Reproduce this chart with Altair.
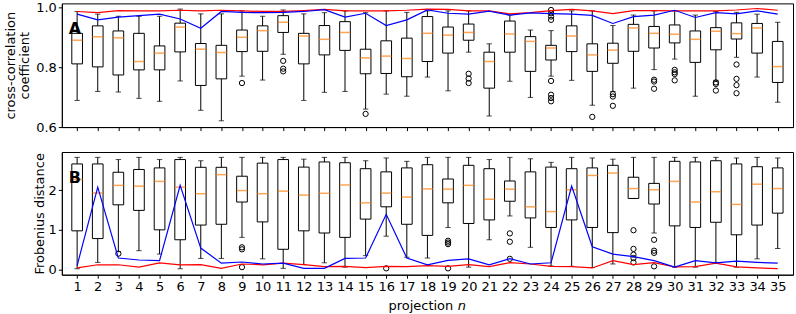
import altair as alt
import pandas as pd

proj = list(range(1, 36))

# ---- panel A: cross-correlation coefficient (box statistics) ----
cc_hi = [0.986, 0.977, 0.970, 0.970, 0.970, 0.994, 0.978, 0.978, 0.988, 0.970,
         0.991, 0.978, 0.982, 0.988, 0.982, 0.988, 0.983, 0.988, 0.988, 0.988,
         0.878, 0.974, 0.924, 0.922, 0.988, 0.988, 0.939, 0.974, 0.988, 0.988,
         0.974, 0.986, 0.983, 0.977, 0.950]
cc_q3 = [0.913, 0.938, 0.921, 0.913, 0.871, 0.947, 0.879, 0.873, 0.924, 0.938,
         0.972, 0.913, 0.939, 0.952, 0.860, 0.888, 0.897, 0.969, 0.934, 0.944,
         0.850, 0.954, 0.902, 0.873, 0.938, 0.878, 0.880, 0.943, 0.936, 0.941,
         0.921, 0.932, 0.948, 0.946, 0.886]
cc_med = [0.890, 0.902, 0.898, 0.819, 0.847, 0.934, 0.860, 0.849, 0.900, 0.922,
          0.950, 0.904, 0.893, 0.916, 0.831, 0.837, 0.829, 0.913, 0.907, 0.916,
          0.819, 0.911, 0.886, 0.864, 0.904, 0.841, 0.857, 0.931, 0.913, 0.910,
          0.893, 0.920, 0.912, 0.931, 0.802]
cc_q1 = [0.811, 0.801, 0.774, 0.791, 0.791, 0.851, 0.739, 0.761, 0.852, 0.853,
         0.916, 0.811, 0.841, 0.856, 0.778, 0.779, 0.768, 0.819, 0.847, 0.890,
         0.730, 0.850, 0.786, 0.824, 0.852, 0.786, 0.813, 0.853, 0.864, 0.881,
         0.816, 0.858, 0.894, 0.847, 0.749]
cc_lo = [0.689, 0.719, 0.717, 0.696, 0.686, 0.754, 0.656, 0.621, 0.770, 0.757,
         0.843, 0.689, 0.716, 0.719, 0.660, 0.710, 0.703, 0.767, 0.721, 0.850,
         0.637, 0.753, 0.699, 0.770, 0.756, 0.673, 0.719, 0.730, 0.792, 0.827,
         0.703, 0.756, 0.833, 0.767, 0.683]
cc_red = [0.986, 0.982, 0.989, 0.988, 0.988, 0.990, 0.988, 0.990, 0.988, 0.986,
          0.986, 0.989, 0.993, 0.988, 0.988, 0.988, 0.990, 0.994, 0.993, 0.988,
          0.988, 0.978, 0.982, 0.989, 0.993, 0.988, 0.979, 0.989, 0.989, 0.988,
          0.988, 0.988, 0.991, 0.996, 0.990]
cc_blue = [0.977, 0.958, 0.967, 0.972, 0.977, 0.961, 0.930, 0.986, 0.983, 0.982,
           0.983, 0.986, 0.992, 0.967, 0.980, 0.939, 0.958, 0.991, 0.980, 0.977,
           0.987, 0.974, 0.981, 0.979, 0.977, 0.973, 0.946, 0.969, 0.974, 0.990,
           0.966, 0.982, 0.978, 0.988, 0.977]
cc_out_proj = [9, 11, 11, 11, 15, 20, 20, 20, 24, 24, 24, 24, 24, 24, 24, 24,
               26, 27, 27, 27, 29, 29, 29, 30, 30, 30, 30, 32, 32, 32, 33, 33, 33, 33]
cc_out_val = [0.747, 0.821, 0.795, 0.786, 0.644, 0.778, 0.762, 0.747,
              0.991, 0.980, 0.969, 0.958, 0.754, 0.708, 0.697, 0.686,
              0.634, 0.710, 0.702, 0.671, 0.758, 0.752, 0.728,
              0.791, 0.783, 0.777, 0.756, 0.749, 0.744, 0.722,
              0.809, 0.761, 0.740, 0.713]

# ---- panel B: Frobenius distance ----
fd_hi = [2.825, 2.825, 2.77, 2.825, 2.77, 2.825, 2.74, 2.825, 2.825, 2.825,
         2.825, 2.78, 2.825, 2.825, 2.74, 2.81, 2.725, 2.825, 2.825, 2.825,
         2.77, 2.825, 2.79, 2.70, 2.825, 2.81, 2.78, 2.825, 2.825, 2.825,
         2.825, 2.825, 2.81, 2.825, 2.81]
fd_q3 = [2.66, 2.66, 2.45, 2.52, 2.56, 2.77, 2.575, 2.575, 2.35, 2.68,
         2.77, 2.58, 2.71, 2.69, 2.54, 2.46, 2.56, 2.64, 2.28, 2.625,
         2.54, 2.23, 2.46, 2.58, 2.54, 2.56, 2.625, 2.325, 2.17, 2.725,
         2.71, 2.74, 2.66, 2.59, 2.56]
fd_med = [2.27, 1.93, 2.12, 2.10, 2.22, 2.075, 1.91, 2.39, 1.99, 1.91,
          1.975, 1.875, 1.92, 2.13, 1.68, 1.925, 1.825, 2.03, 2.025, 2.12,
          1.77, 2.025, 1.58, 1.46, 2.01, 2.37, 2.43, 2.04, 2.01, 2.22,
          1.70, 1.96, 1.64, 2.15, 2.04]
fd_q1 = [0.975, 0.78, 1.63, 1.49, 1.0, 0.75, 1.12, 1.14, 1.70, 1.2,
         0.51, 0.975, 0.92, 0.81, 1.27, 1.58, 1.14, 0.86, 1.68, 1.16,
         1.25, 1.72, 1.30, 1.06, 1.25, 1.06, 0.93, 1.79, 1.65, 1.10,
         1.06, 1.19, 0.875, 1.12, 1.42]
fd_lo = [0.02, 0.18, 0.45, 0.475, 0.39, 0.02, 0.28, 0.28, 0.81, 0.27,
         0.03, 0.125, 0.17, 0.06, 0.35, 0.84, 0.31, 0.29, 1.06, 0.06,
         0.75, 1.35, 0.56, 0.09, 0.08, 0.05, 0.14, 1.79, 0.92, 0.06,
         0.06, 0.18, 0.06, 0.27, 0.53]
fd_red = [0.04, 0.12, 0.12, 0.06, 0.17, 0.12, 0.125, 0.03, 0.14, 0.12,
          0.16, 0.125, 0.075, 0.08, 0.05, 0.08, 0.075, 0.1, 0.08, 0.125,
          0.075, 0.175, 0.14, 0.08, 0.075, 0.04, 0.225, 0.125, 0.175, 0.065,
          0.075, 0.16, 0.065, 0.04, 0.025]
fd_blue = [0.1, 2.075, 0.29, 0.24, 0.225, 2.12, 0.54, 0.16, 0.19, 0.14,
           0.16, 0.03, 0.03, 0.28, 0.29, 1.39, 0.29, 0.12, 0.23, 0.27,
           0.12, 0.275, 0.14, 0.17, 2.1, 0.575, 0.39, 0.325, 0.225, 0.06,
           0.225, 0.17, 0.21, 0.18, 0.16]
fd_out_proj = [3, 9, 9, 9, 16, 19, 19, 19, 19, 22, 22, 22,
               28, 28, 28, 28, 28, 29, 29, 29, 29]
fd_out_val = [0.40, 0.56, 0.51, 0.06, 0.03, 0.725, 0.68, 0.64, 0.03, 0.91, 0.70, 0.27,
              0.99, 0.52, 0.375, 0.29, 0.18, 0.75, 0.475, 0.42, 0.08]

FONT = "DejaVu Sans"
FS = 13
W = 733


def panel(lo, q1, med, q3, hi, red, blue, out_p, out_v, ydom, yvals, yfmt,
          ytitle, tpad, xlabels, label):
    df = pd.DataFrame({"proj": proj, "lo": lo, "q1": q1, "med": med,
                       "q3": q3, "hi": hi, "red": red, "blue": blue})
    dfo = pd.DataFrame({"proj": out_p, "val": out_v})
    xs = alt.Scale(domain=[0.5, 35.5], nice=False, zero=False)
    xax = alt.Axis(values=proj, labels=xlabels, title=None, format="d")
    ys = alt.Scale(domain=ydom, nice=False, zero=False)
    yax = alt.Axis(values=yvals, format=yfmt, title=ytitle, titlePadding=tpad)

    def X():
        return alt.X("proj:Q", scale=xs, axis=xax)

    def Y(f):
        return alt.Y(f + ":Q", scale=ys, axis=yax)

    base = alt.Chart(df)
    wl = base.mark_rule(color="black", strokeWidth=1).encode(x=X(), y=Y("lo"), y2=alt.Y2("q1"))
    wh = base.mark_rule(color="black", strokeWidth=1).encode(x=X(), y=Y("q3"), y2=alt.Y2("hi"))
    box = base.mark_bar(size=10.7, fillOpacity=0, stroke="black", strokeWidth=1).encode(
        x=X(), y=Y("q1"), y2=alt.Y2("q3"))
    capl = base.mark_tick(orient="horizontal", size=5.4, thickness=1, color="black").encode(x=X(), y=Y("lo"))
    caph = base.mark_tick(orient="horizontal", size=5.4, thickness=1, color="black").encode(x=X(), y=Y("hi"))
    medm = base.mark_tick(orient="horizontal", size=10.7, thickness=1.5, color="#ff7f0e").encode(x=X(), y=Y("med"))
    outm = alt.Chart(dfo).mark_point(shape="circle", filled=False, size=28, stroke="black",
                                     strokeWidth=1, opacity=1).encode(x=X(), y=Y("val"))
    redl = base.mark_line(color="#ff0000", strokeWidth=1.2).encode(x=X(), y=Y("red"))
    bluel = base.mark_line(color="#0000ff", strokeWidth=1.2).encode(x=X(), y=Y("blue"))
    lab = alt.Chart(pd.DataFrame({"t": [label]})).mark_text(
        align="left", baseline="alphabetic", fontSize=16, fontWeight="bold",
        font=FONT, color="black").encode(x=alt.value(7), y=alt.value(31), text="t:N")
    return [wl, wh, box, capl, caph, medm, outm, redl, bluel, lab]


top_layers = panel(cc_lo, cc_q1, cc_med, cc_q3, cc_hi, cc_red, cc_blue,
                   cc_out_proj, cc_out_val, [0.6, 1.013], [0.6, 0.8, 1.0], ".1f",
                   ["cross-correlation", "coefficient"], 4, False, "A")
bot_layers = panel(fd_lo, fd_q1, fd_med, fd_q3, fd_hi, fd_red, fd_blue,
                   fd_out_proj, fd_out_val, [-0.13, 2.96], [0, 1, 2], "d",
                   "Frobenius distance", 2, True, "B")

xt1 = alt.Chart(pd.DataFrame({"t": ["projection"]})).mark_text(
    align="left", baseline="alphabetic", fontSize=FS, font=FONT, color="black").encode(
    x=alt.value(327.5), y=alt.value(158), text="t:N")
xt2 = alt.Chart(pd.DataFrame({"t": ["n"]})).mark_text(
    align="left", baseline="alphabetic", fontSize=FS, font=FONT, fontStyle="italic",
    color="black").encode(x=alt.value(397), y=alt.value(158), text="t:N")

top = alt.layer(*top_layers).properties(width=W, height=124)
bot = alt.layer(*(bot_layers + [xt1, xt2])).properties(width=W, height=123)

chart = alt.vconcat(top, bot, spacing=25, bounds="flush").properties(
    padding={"left": 4, "top": 0, "right": 2, "bottom": 0}
).configure_view(
    stroke="black", strokeWidth=1
).configure_axis(
    labelFont=FONT, labelFontSize=FS, labelColor="black", labelPadding=2,
    titleFont=FONT, titleFontSize=FS, titleFontWeight="normal", titleColor="black",
    titleLineHeight=14,
    tickColor="black", tickSize=3.5, tickWidth=1, domainColor="black", domainWidth=1,
    grid=False
)

chart.save("out.html", embed_options={"renderer": "svg", "actions": False})
